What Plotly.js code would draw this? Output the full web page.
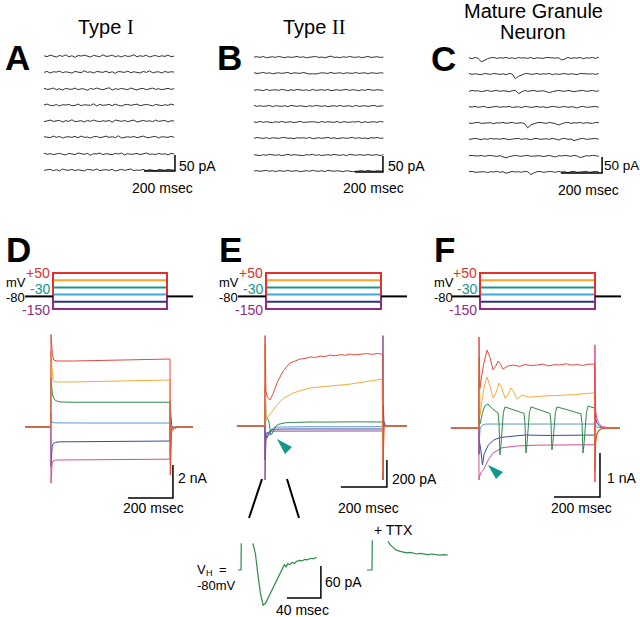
<!DOCTYPE html>
<html><head><meta charset="utf-8">
<script src="https://cdn.plot.ly/plotly-3.0.1.min.js"></script>
<style>html,body{margin:0;padding:0;background:#fff}#plot{width:640px;height:617px}</style>
</head><body><div id="plot"></div>
<script>
// ================= DATA =================
// Panels A-C: spontaneous current recordings (pA), 8 sweeps each
const tA = [0,20,40,60,80,100,120,140,160,180,200,220,240,260,280,300,320,340,360,380,400,420,440,460,480,500,520,540,560,580,600,620,640,660,680,700,720,740,760,780,800,820,840];
const tB = [0,22,44,66,88,110,132,154,176,198,220,242,264,286,308,330,352,374,396,418,440,462,484,506,528,550,572,594,616,638,660,682,704,726,748,770,792,814,836,858,880,902,924];
const tC = [0,15,30,45,60,75,90,105,120,135,150,165,180,195,210,225,240,255,270,285,300,315,330,345,360,375,390,405,420,435,450,465,480,495,510,525,540,555,570,585,600,615,630];
const sweepOffsets = [356, 306, 253, 203, 153, 103, 50, 0];

const sweepsA = [
 [1,-2,3,0,-3,2,-1,4,-2,1,-4,2,0,3,-1,-3,2,1,-2,4,-1,0,3,-2,1,-3,2,-1,0,4,-2,1,-1,3,-3,0,2,-2,1,-1,3,-2,0],
 [-1,2,-3,1,0,3,-2,1,-1,-3,2,0,-2,4,-1,1,-3,2,0,-1,3,-2,1,-4,2,0,-1,3,-2,1,0,-3,2,-1,4,-2,0,1,-3,2,-1,1,0],
 [2,-1,0,3,-2,1,-3,2,0,-1,3,-2,1,0,-4,2,-1,3,0,-2,1,4,-3,1,-1,2,0,-2,3,-1,-3,1,2,-2,0,3,-1,1,-2,0,2,-1,1],
 [0,3,-1,-2,2,-3,1,0,2,-2,-1,3,-2,1,0,-1,4,-3,2,-1,0,2,-2,3,-1,-3,1,2,-1,0,3,-2,-1,2,0,-3,2,1,-2,1,-1,3,0],
 [-2,1,3,-1,0,2,-3,1,-1,4,-2,0,1,-3,2,-1,3,0,-2,1,-1,2,-4,3,0,-1,2,-2,1,3,-3,0,2,-1,1,-2,3,-1,0,2,-3,1,0],
 [1,0,-2,3,-1,2,-3,0,1,-1,2,-2,3,-1,0,-3,1,2,-2,0,3,-1,1,-2,4,-3,0,1,-1,2,-2,0,3,-1,-2,1,2,-3,1,0,-1,2,-1],
 [3,-1,1,-2,0,2,-1,-3,2,1,-2,3,0,-1,2,-4,1,0,3,-2,1,-1,-2,2,0,3,-3,1,-1,0,2,-2,1,3,-1,0,-2,2,-1,1,-3,2,0],
 [-1,0,2,-2,1,-3,3,0,-1,2,-2,1,0,-3,2,1,-1,3,-2,0,1,-1,2,-3,0,2,-1,1,3,-2,0,-1,2,-2,1,0,-3,2,1,-1,2,0,-1]
];
const sweepsB = [
 [0,1,-1,2,-2,0,1,-1,2,0,-2,1,-1,0,2,-1,1,-2,0,1,2,-1,0,-2,1,3,-1,0,-2,1,-1,2,0,-1,1,-2,0,2,-1,0,1,-1,0],
 [1,-1,0,2,-1,1,-2,0,1,-1,0,2,-2,1,0,-1,2,-1,-3,-2,-3,-1,1,0,-1,2,-1,0,1,-2,1,0,-1,2,-1,0,1,-2,1,0,-1,1,0],
 [-1,1,0,-2,2,-1,0,1,-1,2,0,-2,1,-1,2,0,-1,1,-2,2,-1,0,1,-1,2,-2,0,1,-1,0,2,-1,1,0,-2,1,-1,2,0,-1,1,0,-1],
 [2,-1,1,-1,0,2,-2,1,0,-1,1,-2,2,0,-1,1,0,-2,1,-1,2,0,-1,1,-2,0,1,-1,2,-1,0,1,-2,2,-1,0,1,-1,0,2,-1,0,1],
 [0,-1,2,-1,1,0,-2,1,-1,2,-1,0,1,-2,1,2,-1,0,-1,1,0,-2,2,-1,1,0,-1,2,-2,1,0,-1,1,0,2,-2,1,-1,0,1,-1,2,0],
 [-1,2,0,-1,1,-2,1,0,-1,1,2,-1,0,-2,1,0,1,-1,2,-2,0,1,-1,0,2,-1,1,-2,0,1,-1,0,2,-1,1,-1,0,-2,1,0,2,-1,0],
 [1,0,-2,1,-1,2,0,-1,1,-2,0,2,-1,1,0,-1,-2,1,0,2,-1,1,-2,0,1,-1,2,0,-1,1,-2,2,0,-1,1,0,-1,2,-1,0,1,-2,1],
 [0,1,-1,0,2,-1,1,-2,1,0,-1,2,-1,0,1,-2,0,1,-1,2,0,-1,1,-2,2,0,-1,1,0,-2,1,-1,-2,-1,0,1,-1,2,0,-1,1,0,-1]
];
const sweepsC = [
 [1,-2,2,-1,-12,-6,-2,1,2,-1,1,0,2,-1,1,-2,2,0,1,-1,2,-2,1,0,-1,2,1,-1,0,1,-6,-3,2,-1,1,0,2,-2,1,0,2,-1,3],
 [2,-1,1,0,-2,2,1,-1,2,0,-1,1,-2,2,0,-14,-7,-3,1,2,-1,0,2,-1,1,0,2,-2,1,-1,0,2,-1,1,0,-2,2,1,-1,0,1,-1,2],
 [-1,2,0,1,-2,1,2,-1,0,2,-1,1,0,-2,1,2,-8,-4,2,-1,1,2,-1,0,1,-2,-5,-2,1,2,0,-1,2,1,-2,0,1,2,-1,0,2,-1,1],
 [1,0,2,-1,1,2,-2,0,1,2,-1,1,0,2,-1,0,1,-2,2,1,-1,0,2,-1,1,-2,0,2,1,-1,0,2,-1,1,0,-3,1,2,-1,0,1,2,-1],
 [0,-1,1,2,-1,0,2,1,-2,1,0,2,-1,1,2,-1,0,1,-2,-15,-6,-2,1,2,0,-1,2,1,-2,-6,-2,1,2,-1,1,0,2,-1,1,0,-1,2,1],
 [-1,1,2,0,-2,1,-1,2,0,1,-1,2,1,-2,0,1,2,-1,1,0,-2,1,2,-1,0,1,-1,2,0,-3,1,2,-1,0,-5,-1,1,2,-1,0,1,2,-1],
 [2,1,-1,0,2,-1,1,2,0,-1,1,-2,-6,-2,1,2,0,-1,1,2,-1,0,2,1,-2,1,2,-1,-3,1,0,2,1,-1,2,0,-5,-2,1,0,2,1,-1],
 [1,2,-1,0,2,1,-2,1,0,2,-1,1,-4,-1,2,0,1,-1,2,1,-8,-3,1,2,-1,0,2,1,-1,2,0,1,-2,1,2,-1,0,1,2,-1,1,2,0]
];

// Voltage protocols (mV, ms)
const stepLevels = [50, 10, -30, -70, -110, -150];
const holdingMV = -80;
const protoTimeD = [-130, 0, 529, 650];
const protoTimeE = [-125, 0, 513, 629];
const protoTimeF = [-123, 0, 504, 618];

// Panel D currents (nA)
const redD_t = [-115,-0.5,0,2,6,13,30,100,200,300,400,527,529,530,532,536,545,560,631];
const redD_i = [0,0,5.6,5.0,4.4,4.05,4.0,4.0,4.03,4.06,4.09,4.12,4.12,-2.9,-1.0,-0.3,-0.05,0,0];
const orangeD_t = [-115,-0.5,0,2,4,10,20,100,300,529,530,532,536,545,631];
const orangeD_i = [0,0,4.6,4.0,3.6,2.8,2.73,2.73,2.79,2.85,-2.3,-0.7,-0.2,0,0];
const greenD_t = [-115,-0.5,0,2,6,12,20,40,100,300,529,530,532,536,545,631];
const greenD_i = [0,0,3.0,2.4,2.0,1.75,1.6,1.52,1.5,1.5,1.5,-1.6,-0.5,-0.1,0,0];
const blueD_t = [-115,-0.5,0,2,6,15,200,529,530,532,536,545,631];
const blueD_i = [0,0,0.8,0.4,0.28,0.25,0.24,0.24,-0.8,-0.3,-0.05,0,0];
const navyD_t = [-115,-0.5,0,2,5,10,20,40,529,530,532,536,545,560,631];
const navyD_i = [0,0,-2.4,-1.6,-1.2,-1.0,-0.93,-0.9,-0.85,1.2,0.4,0.1,-0.05,0,0];
const pinkD_t = [-115,-0.5,0,2,5,10,20,529,529.5,531,534,540,550,565,631];
const pinkD_i = [0,0,-3.4,-2.6,-2.2,-2.05,-2.0,-1.95,1.6,0.5,0.1,-0.15,-0.1,0,0];

// Panel E currents (pA)
const redE_t = [-122,-0.5,0,1.5,4,10,22,35,55,80,109,130,150,175,196,220,240,260,283,300,330,350,370,390,420,440,470,490,510,512.5,513,514.5,517,525,617];
const redE_i = [0,0,670,380,260,215,193,240,330,410,467,480,495,500,511,508,518,514,526,520,528,524,533,527,530,536,531,537,533,533,-400,-60,-10,0,0];
const orangeE_t = [-122,-0.5,0,1.5,4,13,30,52,80,122,160,196,230,260,300,339,370,400,430,460,490,509,513,514.5,517,525,617];
const orangeE_i = [0,0,600,200,40,67,110,156,205,244,265,281,288,292,298,304,310,318,326,334,340,348,-380,-50,-5,0,0];
const greenE_t = [-122,-0.5,0,1.5,5,10,14,17,20,23,26,29,32,38,44,49,60,75,89,120,150,200,250,300,350,400,450,510,513,514.5,517,525,617];
const greenE_i = [0,0,300,120,60,55,50,30,-10,-45,-66,-62,-52,-32,-14,4,13,20,24,26,28,30,29,31,28,31,30,30,-150,-30,-5,0,0];
const blueE_t = [-122,-0.5,0,1.5,5,10,18,28,40,100,200,300,400,513,514.5,517,525,617];
const blueE_i = [0,0,150,-100,-50,-45,-70,-30,-8,-6,-5,-6,-5,-5,60,10,0,0];
const navyE_t = [-122,-0.5,0,1.5,4,8,14,22,30,45,100,200,300,400,513,514.5,517,525,617];
const navyE_i = [0,0,-250,-120,-70,-90,-60,-35,-28,-24,-22,-21,-23,-22,-22,150,30,0,0];
const purpleE_t = [-122,-0.5,0,1.5,4,8,15,30,100,200,300,400,512.5,513,514,515.5,518,525,617];
const purpleE_i = [0,0,-400,-150,-90,-60,-45,-38,-37,-36,-38,-37,-37,670,-400,40,5,0,0];

// Panel E inset (pA, ms): control and + TTX
const insetT = [-3.5,0,0.3,null,14,17,20,23,26,29,32,38,44,49,51,53,55,57,60,63,65,69,72,75,78,82,85,89];
const insetI = [0,0,50,null,50,30,-10,-45,-66,-62,-52,-32,-14,4,10,6,12,10,14,12,16,18,17,20,19,22,21,24];
const ttxT = [-5.9,0,0.3,null,18.8,21,25,28,33,38,41,45,49,53,57,61,65,70,75,80,85,89];
const ttxI = [0,0,56,null,54,48,42,38,35,34,32,33,31,30,31,30,29,30,29,28,29,28];

// Panel F currents (nA)
const redF_t = [-122,-0.5,0,1.5,4,9,20,35,48,61,72,83,94,104,115,126,150,175,200,230,250,280,300,330,350,380,400,430,450,475,496,503,504,505,507,512,520,535,613];
const redF_i = [0,0,2.07,1.2,0.9,1.09,1.45,1.77,1.6,1.32,1.4,1.52,1.45,1.34,1.38,1.41,1.43,1.40,1.44,1.42,1.43,1.45,1.41,1.44,1.43,1.46,1.43,1.44,1.42,1.45,1.45,1.46,-1.23,-0.5,-0.3,-0.15,-0.06,-0.01,0];
const orangeF_t = [-122,-0.5,0,1.5,5,15,25,35,48,61,74,87,100,113,126,139,152,165,176,187,205,222,260,309,360,420,502,504,505,507,512,520,535,613];
const orangeF_i = [0,0,1.6,0.8,0.3,0.7,1.0,1.16,0.95,0.68,0.8,1.02,0.9,0.68,0.75,0.91,0.82,0.66,0.7,0.75,0.72,0.70,0.72,0.73,0.74,0.76,0.80,-1.0,-0.55,-0.35,-0.15,-0.05,0,0];
const greenF_t = [-122,-0.5,0,1.5,5,15,25,39,55,74,83,87,91,95,100,106,113,130,150,170,187,196,200,204,208,213,219,226,250,280,300,309,313,317,321,326,332,339,370,400,430,443,448,452,456,461,467,474,490,503,504,505,507,512,520,535,613];
const greenF_i = [0,0,1.2,0.2,0.1,0.35,0.5,0.55,0.45,0.36,0.34,0.1,-0.61,-0.42,0.05,0.35,0.48,0.45,0.41,0.37,0.34,0.33,0.1,-0.57,-0.4,0.05,0.35,0.48,0.44,0.38,0.34,0.33,0.1,-0.5,-0.35,0.05,0.35,0.48,0.44,0.39,0.34,0.33,0.1,-0.57,-0.4,0.05,0.35,0.5,0.48,0.45,-0.9,-0.4,-0.27,-0.15,-0.06,-0.01,0];
const blueF_t = [-122,-0.5,0,1.5,5,15,30,60,150,250,350,450,503,504,505,507,512,520,613];
const blueF_i = [0,0,0.5,-0.3,0.0,0.07,0.09,0.09,0.1,0.09,0.1,0.09,0.09,-0.2,0.15,0.05,0.02,0.01,0];
const navyF_t = [-122,-0.5,0,1.5,8,15,22,30,40,65,90,120,200,300,400,503,504,505,507,512,520,535,613];
const navyF_i = [0,0,-0.6,-0.3,-0.5,-0.84,-0.6,-0.5,-0.39,-0.27,-0.22,-0.2,-0.16,-0.17,-0.16,-0.16,0.8,0.3,0.22,0.12,0.06,0.01,0];
const pinkF_t = [-122,-0.5,0,2,10,20,40,60,100,160,250,350,503,504,505,507,512,520,535,560,613];
const pinkF_i = [0,0,-1.18,-1.1,-1.0,-0.95,-0.73,-0.57,-0.45,-0.41,-0.39,-0.39,-0.38,1.89,0.48,0.38,0.23,0.11,0.03,0.01,0];

// ================= STYLE / LAYOUT =================
const W = 640, H = 617;
const FONT = 'Liberation Sans, Arial, sans-serif';
const SERIF = 'Liberation Serif, Times New Roman, serif';
const protoColors = ['#e2312c', '#f6a529', '#139a8c', '#3ea6dc', '#2b3487', '#942a82'];
const C = {red:'#e6493d', orange:'#f5ab3b', green:'#2f8a4a', blue:'#5b95d6', navy:'#3a4aa0', pink:'#d94c8e', purple:'#8b4a9c'};

const layout = {width:W, height:H, margin:{l:0,r:0,t:0,b:0}, paper_bgcolor:'#fff', plot_bgcolor:'rgba(0,0,0,0)',
  showlegend:false, annotations:[], shapes:[], hovermode:false};
const data = [];
let nAx = 0;
function axes(px0, px1, py0, py1, x0px, xScale, y0py, yScale) {
  nAx++;
  const s = nAx === 1 ? '' : String(nAx);
  layout['xaxis'+s] = {domain:[px0/W, px1/W], range:[(px0-x0px)/xScale, (px1-x0px)/xScale], visible:false, fixedrange:true};
  layout['yaxis'+s] = {domain:[1-py1/H, 1-py0/H], range:[(y0py-py1)/yScale, (y0py-py0)/yScale], visible:false, fixedrange:true};
  if (s) { layout['xaxis'+s].anchor = 'y'+s; layout['yaxis'+s].anchor = 'x'+s; }
  return {xaxis:'x'+s, yaxis:'y'+s};
}
function line(ax, x, y, color, width) {
  data.push({type:'scatter', mode:'lines', x:x, y:y, xaxis:ax.xaxis, yaxis:ax.yaxis,
    line:{color:color, width:width}, hoverinfo:'skip', connectgaps:false});
}
function bar(ax, xEnd, xLen, yBottom, yLen) {
  line(ax, [xEnd-xLen, xEnd, xEnd], [yBottom, yBottom, yBottom+yLen], '#000', 1.5);
}
function label(text, px, py, xanchor, size, color, family) {
  layout.annotations.push({text:text, x:px/W, y:1-py/H, xref:'paper', yref:'paper', showarrow:false,
    xanchor:xanchor, yanchor:'middle', borderpad:0, font:{family:family||FONT, size:size, color:color||'#000'}});
}
const P = (x, y) => (x/W).toFixed(4) + ',' + (1-y/H).toFixed(4);

// ---- A, B, C ----
function sweepPanel(t, sweeps, x0px, xScale, y0py, barEnd) {
  const ax = axes(x0px-6, x0px+140, 45, 180, x0px, xScale, y0py, 0.32);
  sweeps.forEach((s, k) => line(ax, t, s.map(v => v + sweepOffsets[k]), '#333', 1));
  bar(ax, barEnd, 200, -3, 50);
}
sweepPanel(tA, sweepsA, 44, 0.155, 170, 845);
sweepPanel(tB, sweepsB, 254, 0.14, 171, 921);
sweepPanel(tC, sweepsC, 469, 0.206, 172, 646);

// ---- Protocols ----
function protocol(x0px, pt) {
  const T = pt[2];
  const xScale = (x0px === 53 ? 114 : 115) / T;
  const ax = axes(x0px-30, x0px+145, 262, 318, x0px, xScale, 282, 0.18);
  [3, 2, 1, 0, 4, 5].forEach(i => line(ax, [pt[1], pt[1], T, T], [holdingMV, stepLevels[i], stepLevels[i], holdingMV], protoColors[i], 2));
  line(ax, [pt[0], pt[1], null, T, pt[3]], [holdingMV, holdingMV, null, holdingMV, holdingMV], '#000', 2);
}
protocol(53, protoTimeD);
protocol(266, protoTimeE);
protocol(480, protoTimeF);

// ---- D currents ----
const axD = axes(20, 200, 320, 520, 51, 0.225, 427, 16.5);
line(axD, blueD_t, blueD_i, C.blue, 1);
line(axD, navyD_t, navyD_i, C.navy, 1);
line(axD, pinkD_t, pinkD_i, C.pink, 1);
line(axD, greenD_t, greenD_i, C.green, 1);
line(axD, orangeD_t, orangeD_i, C.orange, 1);
line(axD, redD_t, redD_i, C.red, 1);
bar(axD, 542, 200, -4.3, 2);

// ---- E currents ----
const axE = axes(230, 415, 320, 500, 265, 0.23, 426, 0.135);
line(axE, blueE_t, blueE_i, C.blue, 1);
line(axE, navyE_t, navyE_i, C.navy, 1);
line(axE, purpleE_t, purpleE_i, C.purple, 1);
line(axE, greenE_t, greenE_i, C.green, 1);
line(axE, orangeE_t, orangeE_i, C.orange, 1);
line(axE, redE_t, redE_i, C.red, 1);
bar(axE, 530, 200, -452, 200);

// ---- E inset ----
const axIn = axes(230, 335, 525, 615, 241, 0.85, 570, 0.533);
line(axIn, insetT, insetI, C.green, 1.2);
bar(axIn, 94, 40, -52.5, 60);
const axTTX = axes(355, 465, 525, 615, 372, 0.85, 570, 0.533);
line(axTTX, ttxT, ttxI, C.green, 1.2);

// ---- F currents ----
const axF = axes(445, 625, 320, 510, 479, 0.23, 428, 44);
line(axF, blueF_t, blueF_i, C.blue, 1);
line(axF, navyF_t, navyF_i, C.navy, 1);
line(axF, pinkF_t, pinkF_i, C.pink, 1);
line(axF, greenF_t, greenF_i, C.green, 1);
line(axF, orangeF_t, orangeF_i, C.orange, 1);
line(axF, redF_t, redF_i, C.red, 1);
bar(axF, 526, 200, -1.57, 1);

// ---- decorations: zoom wedge + arrowheads ----
layout.shapes.push({type:'path', xref:'paper', yref:'paper', path:'M' + P(262,479) + 'L' + P(249,518), line:{color:'#000', width:2}});
layout.shapes.push({type:'path', xref:'paper', yref:'paper', path:'M' + P(287,479) + 'L' + P(299,518), line:{color:'#000', width:2}});
layout.shapes.push({type:'path', xref:'paper', yref:'paper', path:'M' + P(277,439) + 'L' + P(292,447) + 'L' + P(285,454) + 'Z', fillcolor:'#10998a', line:{width:0}});
layout.shapes.push({type:'path', xref:'paper', yref:'paper', path:'M' + P(488,465) + 'L' + P(503,472) + 'L' + P(496,479) + 'Z', fillcolor:'#10998a', line:{width:0}});

// ---- text ----
label('Type', 77, 27, 'left', 20);
label('I', 126, 27, 'left', 20, '#000', SERIF);
label('Type', 282, 27, 'left', 20);
label('II', 331, 27, 'left', 20, '#000', SERIF);
label('Mature Granule', 533, 11, 'center', 20);
label('Neuron', 533, 32, 'center', 20);
[['A',17,58],['B',229,58],['C',443,59],['D',18,250],['E',230,250],['F',444,250]].forEach(d => label('<b>'+d[0]+'</b>', d[1], d[2], 'center', 35));
// scale labels
label('50 pA', 178, 166, 'left', 14);
label('200 msec', 162, 188, 'center', 14);
label('50 pA', 387, 166, 'left', 14);
label('200 msec', 373, 188, 'center', 14);
label('50 pA', 603, 166, 'left', 13.5);
label('200 msec', 588, 190, 'center', 14);
label('2 nA', 177, 478, 'left', 14);
label('200 msec', 153, 508, 'center', 14);
label('200 pA', 391, 479, 'left', 14);
label('200 msec', 368, 508, 'center', 14);
label('1 nA', 606, 478, 'left', 14);
label('200 msec', 581, 508, 'center', 14);
label('60 pA', 324, 582, 'left', 14);
label('40 msec', 302, 610, 'center', 14);
label('+ TTX', 373, 530, 'left', 14);
label('V', 196, 569, 'left', 13);
label('H', 205, 573, 'left', 9);
label('=', 218, 569, 'left', 13);
label('-80mV', 196, 585, 'left', 13);
// protocol labels
[[5,51],[218,264],[433,478]].forEach(p => {
  label('+50', p[1], 273, 'right', 14, protoColors[0]);
  label('-30', p[1], 289, 'right', 14, protoColors[2]);
  label('mV', p[0], 282, 'left', 13);
  label('-80', p[0], 298, 'left', 13);
  label('-150', p[1], 310, 'right', 14, protoColors[5]);
});

Plotly.newPlot('plot', data, layout, {staticPlot:true, displayModeBar:false});
</script></body></html>
